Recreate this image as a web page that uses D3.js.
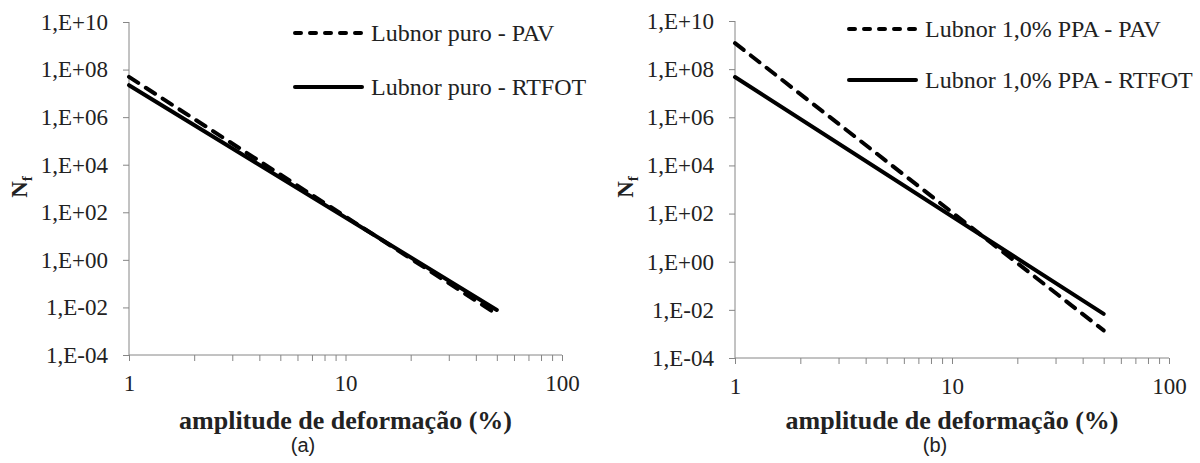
<!DOCTYPE html>
<html>
<head>
<meta charset="utf-8">
<script src="https://cdn.jsdelivr.net/npm/d3@7"></script>
<style>
  body { margin: 0; background: #fff; }
  svg { display: block; }
</style>
</head>
<body>
<div id="chart"></div>
<script>
// data (two end points of each fitted power law)
const strainX = [1, 50];
const pureLabels = ["Lubnor puro - PAV", "Lubnor puro - RTFOT"];
const purePAV = [4.9e7, 5.2e-3];
const pureRTFOT = [2.2e7, 7.8e-3];
const ppaLabels = ["Lubnor 1,0% PPA - PAV", "Lubnor 1,0% PPA - RTFOT"];
const ppaPAV = [1.2e9, 1.4e-3];
const ppaRTFOT = [4.7e7, 6.8e-3];
const yTicks = [1e-4, 1e-2, 1e0, 1e2, 1e4, 1e6, 1e8, 1e10];
const xTicks = [1, 10, 100];
const panelLabels = ["(a)", "(b)"];

const svg = d3.select("#chart")
  .append("svg")
  .attr("width", 1200)
  .attr("height", 463);

const axisColor = "#868686";
const serif = "'Liberation Serif', 'Times New Roman', serif";

// "1,E+08" style labels
function sciLabel(v) {
  const e = Math.round(Math.log10(v));
  const s = e < 0 ? "-" : "+";
  return "1,E" + s + String(Math.abs(e)).padStart(2, "0");
}

function drawPanel(opt) {
  const x = d3.scaleLog().domain([1, 100]).range([opt.x0, opt.x1]);
  const y = d3.scaleLog().domain([1e-4, 1e10]).range([opt.y0, opt.y1]);
  const g = svg.append("g");

  // y axis
  const yAxis = g.append("g")
    .attr("transform", `translate(${opt.x0},0)`)
    .call(d3.axisLeft(y).tickValues(yTicks).tickFormat(sciLabel).tickSize(6).tickPadding(15));
  yAxis.select(".domain").attr("stroke", axisColor).attr("d", `M0,${opt.y0}V${opt.y1}`);
  yAxis.selectAll(".tick line").attr("stroke", axisColor);
  yAxis.selectAll(".tick text")
    .attr("fill", "#222")
    .style("font-family", serif)
    .style("font-size", "23px");

  // x axis with minor ticks
  const minor = [];
  for (let d = 1; d < 100; d *= 10) for (let k = 2; k <= 9; k++) minor.push(d * k);
  const xAxis = g.append("g")
    .attr("transform", `translate(0,${opt.y0})`)
    .call(d3.axisBottom(x).tickValues(xTicks.concat(minor))
      .tickFormat(d => xTicks.includes(d) ? d : "").tickSize(6).tickPadding(14));
  xAxis.select(".domain").attr("stroke", axisColor).attr("d", `M${opt.x0},0H${opt.x1}`);
  xAxis.selectAll(".tick line").attr("stroke", axisColor);
  xAxis.selectAll(".tick text")
    .attr("fill", "#222")
    .style("font-family", serif)
    .style("font-size", "23px");

  // lines
  const line = d3.line().x(d => x(d[0])).y(d => y(d[1]));
  opt.series.forEach(s => {
    g.append("path")
      .datum(strainX.map((v, i) => [v, s.values[i]]))
      .attr("d", line)
      .attr("fill", "none")
      .attr("stroke", "#000")
      .attr("stroke-width", 4)
      .attr("stroke-linecap", "round")
      .attr("stroke-dasharray", s.dashed ? "11,9" : null);
  });

  // legend
  opt.series.forEach((s, i) => {
    const ly = opt.legY[i];
    g.append("line")
      .attr("x1", opt.legX).attr("x2", opt.legX + 67)
      .attr("y1", ly).attr("y2", ly)
      .attr("stroke", "#000")
      .attr("stroke-width", 4)
      .attr("stroke-linecap", "round")
      .attr("stroke-dasharray", s.dashed ? "6,9" : null);
    g.append("text")
      .attr("x", opt.legX + 76)
      .attr("y", ly + 8)
      .style("font-family", serif)
      .style("font-size", "24px")
      .attr("fill", "#222")
      .text(s.label);
  });

  // axis titles
  g.append("text")
    .attr("x", (opt.x0 + opt.x1) / 2)
    .attr("y", 429)
    .attr("text-anchor", "middle")
    .style("font-family", serif)
    .style("font-size", "26px")
    .style("font-weight", "bold")
    .attr("fill", "#222")
    .text("amplitude de deformação (%)");

  const yt = g.append("text")
    .attr("transform", `translate(${opt.x0 - 102},187) rotate(-90)`)
    .attr("text-anchor", "middle")
    .style("font-family", serif)
    .style("font-size", "23px")
    .style("font-weight", "bold")
    .attr("fill", "#222");
  yt.append("tspan").text("N");
  yt.append("tspan").attr("dy", 5).style("font-size", "15px").text("f");

  g.append("text")
    .attr("x", opt.labX)
    .attr("y", 452)
    .attr("text-anchor", "middle")
    .style("font-family", "'Liberation Sans', Arial, sans-serif")
    .style("font-size", "20px")
    .attr("fill", "#222")
    .text(opt.panel);
}

drawPanel({
  x0: 129, x1: 562, y0: 355, y1: 22,
  legX: 295, legY: [33, 87], labX: 303, panel: panelLabels[0],
  series: [
    { label: pureLabels[0], values: purePAV, dashed: true },
    { label: pureLabels[1], values: pureRTFOT, dashed: false }
  ]
});

drawPanel({
  x0: 735, x1: 1169, y0: 358, y1: 21,
  legX: 849, legY: [29, 80], labX: 935, panel: panelLabels[1],
  series: [
    { label: ppaLabels[0], values: ppaPAV, dashed: true },
    { label: ppaLabels[1], values: ppaRTFOT, dashed: false }
  ]
});
</script>
</body>
</html>
